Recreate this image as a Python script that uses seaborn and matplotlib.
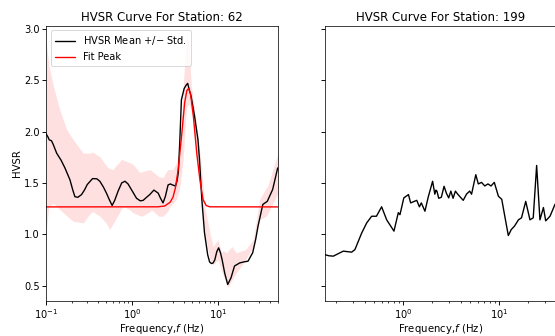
import numpy as np
import pandas as pd
import matplotlib
matplotlib.use('Agg')
import matplotlib.pyplot as plt
from matplotlib.ticker import LogLocator, NullFormatter
import seaborn as sns

sns.set_style('ticks')
plt.rcParams.update({'text.color': 'black', 'axes.labelcolor': 'black',
                     'xtick.color': 'black', 'ytick.color': 'black',
                     'axes.edgecolor': 'black', 'font.size': 10})

# station 62 : mean curve
mean_freq_62 = [0.1, 0.105, 0.109, 0.116, 0.122, 0.133, 0.15, 0.166, 0.19, 0.205, 0.217, 0.235, 0.259,
                0.28, 0.302, 0.348, 0.39, 0.423, 0.465, 0.505, 0.55, 0.588, 0.63, 0.69, 0.76, 0.83,
                0.9, 0.985, 1.13, 1.25, 1.35, 1.48, 1.61, 1.80, 2.02, 2.15, 2.30, 2.45, 2.63, 2.8,
                2.96, 3.21, 3.35, 3.46, 3.6, 3.76, 4.05, 4.29, 4.45, 4.6, 4.89, 5.35, 5.86, 6.1,
                6.5, 6.98, 7.6, 8.0, 8.4, 8.8, 9.2, 9.7, 10.2, 10.7, 11.2, 12.0, 13.0, 14.2,
                15.6, 17.9, 20.0, 22.4, 25.4, 27.5, 29.3, 33.3, 37.5, 43.3, 49.6]
mean_val_62 = [1.98, 1.95, 1.92, 1.91, 1.87, 1.79, 1.72, 1.646, 1.53, 1.43, 1.365, 1.36, 1.386,
               1.43, 1.484, 1.542, 1.54, 1.516, 1.46, 1.40, 1.33, 1.28, 1.33, 1.42, 1.50, 1.516,
               1.49, 1.435, 1.35, 1.325, 1.33, 1.36, 1.386, 1.43, 1.40, 1.35, 1.305, 1.37, 1.48, 1.49,
               1.48, 1.47, 1.52, 1.60, 1.90, 2.31, 2.42, 2.455, 2.47, 2.42,
               2.34, 2.15, 1.92, 1.73, 1.338, 1.013, 0.80, 0.73, 0.714, 0.72, 0.75, 0.83, 0.867,
               0.82, 0.75, 0.62, 0.51, 0.575, 0.69, 0.72, 0.73, 0.737, 0.82, 0.95, 1.08, 1.29,
               1.32, 1.435, 1.646]

# std band
band_freq_62 = [0.1, 0.108, 0.122, 0.145, 0.174, 0.208, 0.271, 0.325, 0.35, 0.424, 0.51,
                0.55, 0.60, 0.64, 0.76, 0.81, 0.93, 1.03, 1.24, 1.31, 1.62, 1.68, 2.06,
                2.3, 2.6, 2.77, 3.0, 3.3, 3.6, 3.94, 4.3, 4.6, 4.9, 5.18, 5.4, 5.67,
                5.9, 6.17, 6.45, 7.0, 8.1, 8.8, 10.0, 11.0, 11.6, 12.6, 13.2, 14.5,
                16.3, 21.0, 25.8, 30.6, 36.3, 38.0, 50.0]
band_hi_62 = [2.89, 2.65, 2.44, 2.21, 2.02, 1.92, 1.79, 1.79, 1.80, 1.755, 1.66,
              1.64, 1.63, 1.66, 1.73, 1.72, 1.70, 1.68, 1.60, 1.61, 1.63, 1.62, 1.56,
              1.55, 1.63, 1.63, 1.63, 1.70, 1.79, 2.44, 2.92, 2.86, 2.44, 2.30, 2.18, 2.05,
              1.95, 1.80, 1.66, 1.27, 1.01, 0.88, 0.95, 0.82, 0.84, 0.82, 0.84, 0.88,
              0.82, 0.85, 0.95, 1.34, 1.45, 1.47, 1.79]
band_lo_62 = [1.015, 1.27, 1.30, 1.24, 1.18, 1.125, 1.11, 1.20, 1.22, 1.175, 1.10,
              1.045, 1.10, 1.14, 1.25, 1.27, 1.24, 1.21, 1.18, 1.175, 1.22, 1.24, 1.175,
              1.175, 1.22, 1.27, 1.30, 1.34, 1.45, 1.73, 2.24, 2.27, 2.20, 2.11, 1.95, 1.76,
              1.65, 1.53, 1.30, 1.01, 0.75, 0.70, 0.75, 0.65, 0.59, 0.52, 0.48, 0.55,
              0.62, 0.75, 0.88, 1.14, 1.175, 1.20, 1.40]

# fitted peak
fit_freq_62 = [0.1, 2.0, 2.4, 2.77, 3.0, 3.2, 3.45, 3.77, 4.1, 4.35, 4.55, 4.8, 5.18,
               5.67, 6.17, 6.7, 7.3, 8.0, 50.0]
fit_val_62 = [1.266, 1.267, 1.275, 1.31, 1.36, 1.45, 1.63, 1.95, 2.28, 2.40, 2.42, 2.37,
              2.15, 1.79, 1.53, 1.34, 1.28, 1.267, 1.266]

# station 199 : mean curve
mean_freq_199 = [0.155, 0.17, 0.189, 0.24, 0.293, 0.317, 0.372, 0.42, 0.473, 0.53, 0.60,
                 0.677, 0.806, 0.894, 0.93, 1.02, 1.14, 1.20, 1.39, 1.48, 1.55, 1.69,
                 1.83, 2.03, 2.14, 2.2, 2.25, 2.35, 2.5, 2.67, 2.82, 2.98, 3.14, 3.31,
                 3.5, 3.7, 4.22, 4.56, 4.92, 5.15, 5.7, 6.05, 6.54, 7.06, 7.62, 8.2,
                 8.87, 9.78, 10.6, 11.4, 12.4, 13.3, 14.4, 15.8, 17.0, 18.8, 20.8, 22.5,
                 24.4, 26.4, 28.7, 30.3, 33.6, 37.8, 39.7]
mean_val_199 = [0.80, 0.79, 0.786, 0.835, 0.825, 0.85, 1.01, 1.11, 1.175, 1.175, 1.267,
                1.14, 1.03, 1.21, 1.19, 1.354, 1.386, 1.305, 1.33, 1.267, 1.305, 1.224,
                1.364, 1.516, 1.39, 1.43, 1.42, 1.35, 1.36, 1.467, 1.40, 1.354, 1.42, 1.35,
                1.42, 1.39, 1.33, 1.39, 1.42, 1.39, 1.58, 1.49, 1.505, 1.47, 1.49, 1.47,
                1.505, 1.37, 1.34, 1.175, 0.987, 1.045, 1.08, 1.14, 1.16, 1.32, 1.14, 1.16,
                1.67, 1.14, 1.26, 1.13, 1.175, 1.29, 1.31]

df62 = pd.DataFrame({'f': mean_freq_62, 'hvsr': mean_val_62})
fit62 = pd.DataFrame({'f': fit_freq_62, 'hvsr': fit_val_62})
df199 = pd.DataFrame({'f': mean_freq_199, 'hvsr': mean_val_199})

fig = plt.figure(figsize=(555 / 66, 336 / 66), dpi=66)
ax1 = fig.add_axes([46 / 555, 35 / 336, 232 / 555, 275.5 / 336])
ax2 = fig.add_axes([325 / 555, 35 / 336, 232 / 555, 275.5 / 336], sharey=ax1)

''' left panel '''
ax1.fill_between(band_freq_62, band_lo_62, band_hi_62, color='red', alpha=0.12, lw=0)
sns.lineplot(data=df62, x='f', y='hvsr', color='k', lw=1.5, ax=ax1,
             label='HVSR Mean +/$-$ Std.', estimator=None, sort=False)
sns.lineplot(data=fit62, x='f', y='hvsr', color='red', lw=1.5, ax=ax1,
             label='Fit Peak', estimator=None, sort=False)
ax1.set_xscale('log')
ax1.set_xlim(0.1, 50)
ax1.set_ylim(0.349, 3.034)
ax1.set_title('HVSR Curve For Station: 62', fontsize=12.8, pad=5)
ax1.set_xlabel('Frequency,$f$ (Hz)', fontsize=11, labelpad=1)
ax1.set_ylabel('HVSR', fontsize=11, labelpad=3)
ax1.legend(loc='upper left', fontsize=10.8)

''' right panel '''
sns.lineplot(data=df199, x='f', y='hvsr', color='k', lw=1.5, ax=ax2,
             estimator=None, sort=False)
ax2.set_xscale('log')
ax2.set_xlim(0.155, 39.7)
ax2.set_title('HVSR Curve For Station: 199', fontsize=12.8, pad=5)
ax2.set_xlabel('Frequency,$f$ (Hz)', fontsize=11, labelpad=1)
ax2.set_ylabel('')
ax2.tick_params(labelleft=False)

for ax in (ax1, ax2):
    ax.xaxis.set_minor_locator(LogLocator(base=10, subs=np.arange(2, 10), numticks=20))
    ax.xaxis.set_minor_formatter(NullFormatter())
    ax.tick_params(which='major', length=4, width=1, labelsize=10.8, pad=2.5)
    ax.tick_params(which='minor', length=2.3, width=0.8)

fig.savefig('out.png', dpi=66)
